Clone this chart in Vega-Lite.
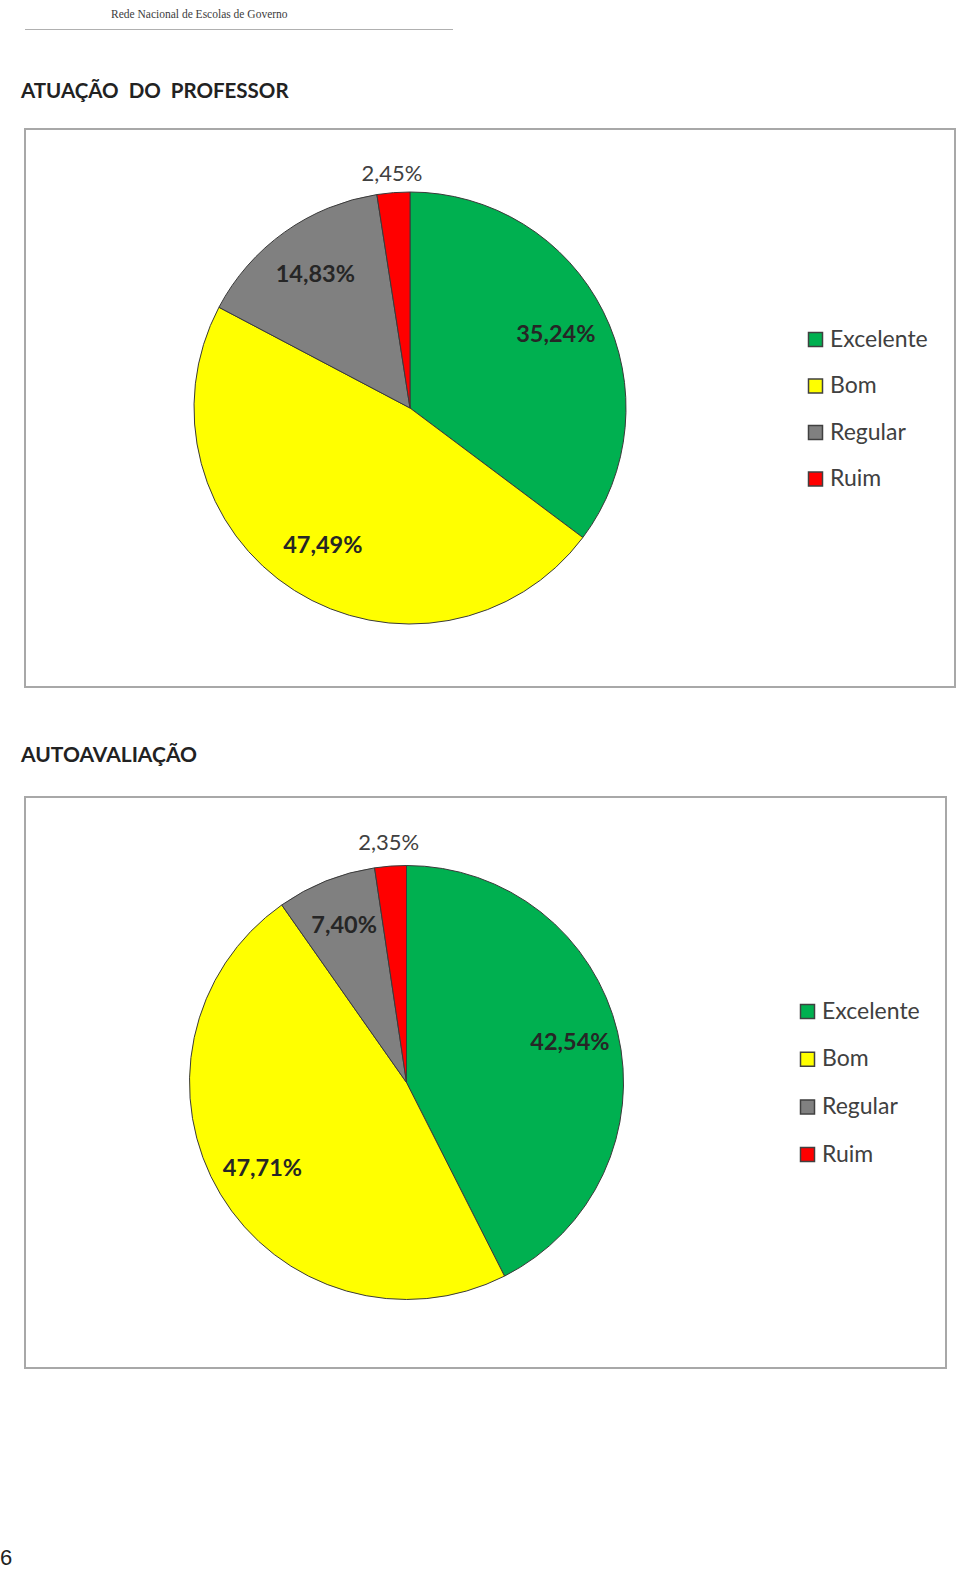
{
  "$schema": "https://vega.github.io/schema/vega-lite/v6.json",
  "background": "white",
  "padding": {"left": 0, "top": 8, "right": 0, "bottom": 0},
  "autosize": {"type": "pad"},
  "datasets": {
    "prof": [
      {"categoria": "Excelente", "valor": 35.24, "ordem": 1, "rotulo": "35,24%"},
      {"categoria": "Bom", "valor": 47.49, "ordem": 2, "rotulo": "47,49%"},
      {"categoria": "Regular", "valor": 14.83, "ordem": 3, "rotulo": "14,83%"},
      {"categoria": "Ruim", "valor": 2.45, "ordem": 4, "rotulo": "2,45%"}
    ],
    "auto": [
      {"categoria": "Excelente", "valor": 42.54, "ordem": 1, "rotulo": "42,54%"},
      {"categoria": "Bom", "valor": 47.71, "ordem": 2, "rotulo": "47,71%"},
      {"categoria": "Regular", "valor": 7.40, "ordem": 3, "rotulo": "7,40%"},
      {"categoria": "Ruim", "valor": 2.35, "ordem": 4, "rotulo": "2,35%"}
    ],
    "vazio": []
  },
  "title": {
    "text": "6",
    "orient": "bottom",
    "anchor": "start",
    "font": "Liberation Sans",
    "fontSize": 22,
    "fontWeight": "normal",
    "color": "#222222",
    "offset": 179,
    "dx": -20
  },
  "spacing": 51,
  "vconcat": [
    {
      "width": 428,
      "height": 1,
      "view": {"stroke": null, "fill": "#b0b0b0"},
      "title": {
        "text": "Rede Nacional de Escolas de Governo",
        "anchor": "start",
        "font": "Liberation Serif",
        "fontSize": 11.5,
        "fontWeight": "normal",
        "color": "#3c3c3c",
        "baseline": "alphabetic",
        "offset": 0,
        "dx": 86
      },
      "data": {"name": "vazio"},
      "mark": "rule",
      "encoding": {}
    },
    {
      "spacing": 56,
      "resolve": {
        "scale": {"color": "independent", "theta": "independent"},
        "legend": {"color": "independent"}
      },
      "vconcat": [
        {
          "width": 930,
          "height": 558,
          "view": {"stroke": "#a8a8a8", "strokeWidth": 2},
          "title": {
            "text": "ATUAÇÃO\u00a0 DO\u00a0 PROFESSOR",
            "anchor": "start",
            "font": "Lato",
            "fontSize": 20.5,
            "fontWeight": "bold",
            "color": "#222222",
            "baseline": "alphabetic",
            "offset": 10.5,
            "dx": -4
          },
          "data": {"name": "prof"},
          "encoding": {
            "theta": {"field": "valor", "type": "quantitative", "stack": true},
            "order": {"field": "ordem", "type": "quantitative"}
          },
          "layer": [
            {
              "mark": {"type": "arc", "outerRadius": 216, "xOffset": -80, "stroke": "#3a3a3a", "strokeWidth": 1},
              "encoding": {
                "color": {
                  "field": "categoria",
                  "type": "nominal",
                  "sort": ["Excelente", "Bom", "Regular", "Ruim"],
                  "scale": {"domain": ["Excelente", "Bom", "Regular", "Ruim"], "range": ["#00b050", "#ffff00", "#808080", "#ff0000"]},
                  "legend": {
                    "title": null,
                    "orient": "none",
                    "legendX": 779,
                    "legendY": 199,
                    "direction": "vertical",
                    "padding": 0,
                    "rowPadding": 22.5,
                    "symbolType": "square",
                    "symbolSize": 196,
                    "symbolStrokeColor": "#404040",
                    "symbolStrokeWidth": 1.5,
                    "labelFont": "Lato",
                    "labelFontSize": 23,
                    "labelColor": "#404040",
                    "labelOffset": 3
                  }
                }
              }
            },
            {
              "mark": {"type": "text", "radius": 163, "xOffset": -80, "font": "Lato", "fontSize": 23.5, "fontWeight": "bold", "fill": "#262626"},
              "encoding": {
                "detail": {"field": "categoria", "type": "nominal"},
                "text": {"condition": {"test": "datum.valor >= 5", "field": "rotulo"}, "value": ""}
              }
            },
            {
              "mark": {"type": "text", "radius": 235, "xOffset": -80, "font": "Lato", "fontSize": 22, "fontWeight": "normal", "fill": "#404040"},
              "encoding": {
                "detail": {"field": "categoria", "type": "nominal"},
                "text": {"condition": {"test": "datum.valor < 5", "field": "rotulo"}, "value": ""}
              }
            }
          ]
        },
        {
          "width": 921,
          "height": 571,
          "view": {"stroke": "#a8a8a8", "strokeWidth": 2},
          "title": {
            "text": "AUTOAVALIAÇÃO",
            "anchor": "start",
            "font": "Lato",
            "fontSize": 21,
            "fontWeight": "bold",
            "color": "#222222",
            "baseline": "alphabetic",
            "offset": 14,
            "dx": -4
          },
          "data": {"name": "auto"},
          "encoding": {
            "theta": {"field": "valor", "type": "quantitative", "stack": true},
            "order": {"field": "ordem", "type": "quantitative"}
          },
          "layer": [
            {
              "mark": {"type": "arc", "outerRadius": 217, "xOffset": -79, "stroke": "#3a3a3a", "strokeWidth": 1},
              "encoding": {
                "color": {
                  "field": "categoria",
                  "type": "nominal",
                  "sort": ["Excelente", "Bom", "Regular", "Ruim"],
                  "scale": {"domain": ["Excelente", "Bom", "Regular", "Ruim"], "range": ["#00b050", "#ffff00", "#808080", "#ff0000"]},
                  "legend": {
                    "title": null,
                    "orient": "none",
                    "legendX": 771,
                    "legendY": 203,
                    "direction": "vertical",
                    "padding": 0,
                    "rowPadding": 23.7,
                    "symbolType": "square",
                    "symbolSize": 196,
                    "symbolStrokeColor": "#404040",
                    "symbolStrokeWidth": 1.5,
                    "labelFont": "Lato",
                    "labelFontSize": 23,
                    "labelColor": "#404040",
                    "labelOffset": 3
                  }
                }
              }
            },
            {
              "mark": {"type": "text", "radius": 168, "xOffset": -79, "font": "Lato", "fontSize": 23.5, "fontWeight": "bold", "fill": "#262626"},
              "encoding": {
                "detail": {"field": "categoria", "type": "nominal"},
                "text": {"condition": {"test": "datum.valor >= 5", "field": "rotulo"}, "value": ""}
              }
            },
            {
              "mark": {"type": "text", "radius": 240, "xOffset": -79, "font": "Lato", "fontSize": 22, "fontWeight": "normal", "fill": "#404040"},
              "encoding": {
                "detail": {"field": "categoria", "type": "nominal"},
                "text": {"condition": {"test": "datum.valor < 5", "field": "rotulo"}, "value": ""}
              }
            }
          ]
        }
      ]
    }
  ]
}
